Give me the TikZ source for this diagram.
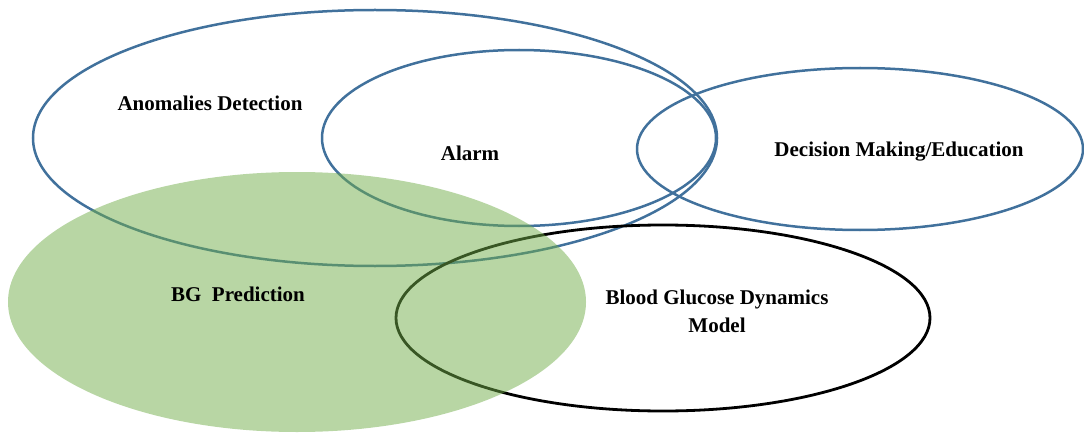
\documentclass[tikz,border=0pt]{standalone}
\usepackage{fontspec}
\setmainfont{Liberation Serif}
\usetikzlibrary{shapes.geometric}
\definecolor{ringblue}{RGB}{65,113,156}
\definecolor{bggreen}{RGB}{113,173,73}
\tikzset{
  ring/.style={ellipse, draw=ringblue, line width=2.5pt, inner sep=0pt},
  blackring/.style={ellipse, draw=black, line width=2.8pt, inner sep=0pt},
  greenblob/.style={ellipse, fill=bggreen, fill opacity=0.5, draw=none, inner sep=0pt},
  lbl/.style={font=\fontsize{21}{28}\selectfont\bfseries, text=black, align=center, inner sep=0pt}
}
\begin{document}
\begin{tikzpicture}[x=1pt,y=1pt]
\useasboundingbox (0,0) rectangle (1084,-433);
\node[ring, minimum width=684pt, minimum height=256pt] (anom) at (375,-138) {};
\node[ring, minimum width=394pt, minimum height=176pt] (alarm) at (519,-138) {};
\node[ring, minimum width=446pt, minimum height=162pt] (dec) at (860,-149) {};
\node[blackring, minimum width=534pt, minimum height=186pt] (bgd) at (663,-318) {};
\node[greenblob, minimum width=578pt, minimum height=260pt] (pred) at (297,-302) {};
\node[lbl] (tanom) at (210,-103) {Anomalies Detection};
\node[lbl] (talarm) at (470,-153) {Alarm};
\node[lbl] (tdec) at (899,-152) {Decision Making/Education};
\node[lbl] (tpred) at (238,-294) {BG\ \ Prediction};
\node[lbl] (tbgd) at (717,-311) {Blood Glucose Dynamics\\Model};
\end{tikzpicture}
\end{document}
